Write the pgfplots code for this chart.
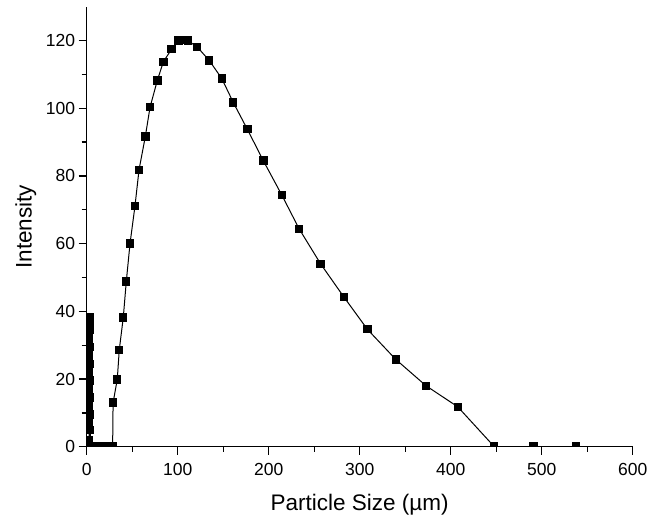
\documentclass[border=0pt]{standalone}
\usepackage{fontspec}
\setmainfont{Liberation Sans}
\usepackage{pgfplots}
\pgfplotsset{compat=1.18}
\begin{document}
\begin{tikzpicture}[x=1pt,y=1pt]
\useasboundingbox (-86.7,-70.3) rectangle (562.3,446.7);
\begin{axis}[
  at={(0,0)}, anchor=south west,
  scale only axis, width=546pt, height=440pt,
  xmin=0, xmax=600, ymin=0, ymax=130,
  axis x line*=bottom, axis y line*=left,
  tick align=outside,
  xtick={0,100,...,600}, ytick={0,20,...,120},
  minor x tick num=1, minor y tick num=1,
  major tick length=8pt, minor tick length=5pt,
  every tick/.style={black, line width=1.3pt},
  axis line style={line width=1.3pt},
  tick label style={font=\fontsize{17.5}{20}\selectfont},
  xticklabel style={yshift=-5pt},
  /pgf/number format/assume math mode=true,
  xlabel={Particle Size (µm)}, ylabel={Intensity},
  label style={font=\fontsize{22.5}{26}\selectfont},
  xlabel style={at={([yshift=-64pt]rel axis cs:0.5,0)}, anchor=base},
  ylabel style={at={([xshift=-55pt]rel axis cs:0,0.5)}, anchor=base},
  clip marker paths=true,
]
\addplot[black, line width=1pt, mark=square*, mark size=3.7pt, mark options={solid}] coordinates {
(0.8,0) (2.5,2) (3,5) (2.6,7.5) (3.1,9.5) (2.7,12) (3.2,14.5) (2.8,17) (3.3,19.5) (2.8,22)
(3.2,24.5) (2.7,27) (3.1,29.5) (2.8,32) (3.2,34.5) (2.9,37) (3,38.4) (4,0)
(6,0) (8,0) (10,0) (12,0) (14,0) (16,0) (18,0) (20,0) (22,0) (24,0) (26,0) (28.5,0)
(29,13) (33.6,19.9) (35.8,28.6) (40.2,38.2) (43.5,48.8) (47.6,60.0) (53.1,71.2) (57.5,81.8)
(64.4,91.6) (69.6,100.3) (77.6,108.2) (84.2,113.7) (93.4,117.5) (100.7,120.0) (106.2,120.2)
(111,120.0) (121.5,118.1) (134.7,114.1) (148.4,108.8) (161.1,101.7) (176.5,93.8) (194.1,84.5)
(214.3,74.4) (233.6,64.3) (257.1,54.0) (282.7,44.2) (308.4,34.7) (339.6,25.8) (372.9,18.0)
(407.7,11.8) (447.9,0) (490.8,0) (537.7,0)
};
\end{axis}
\end{tikzpicture}
\end{document}
